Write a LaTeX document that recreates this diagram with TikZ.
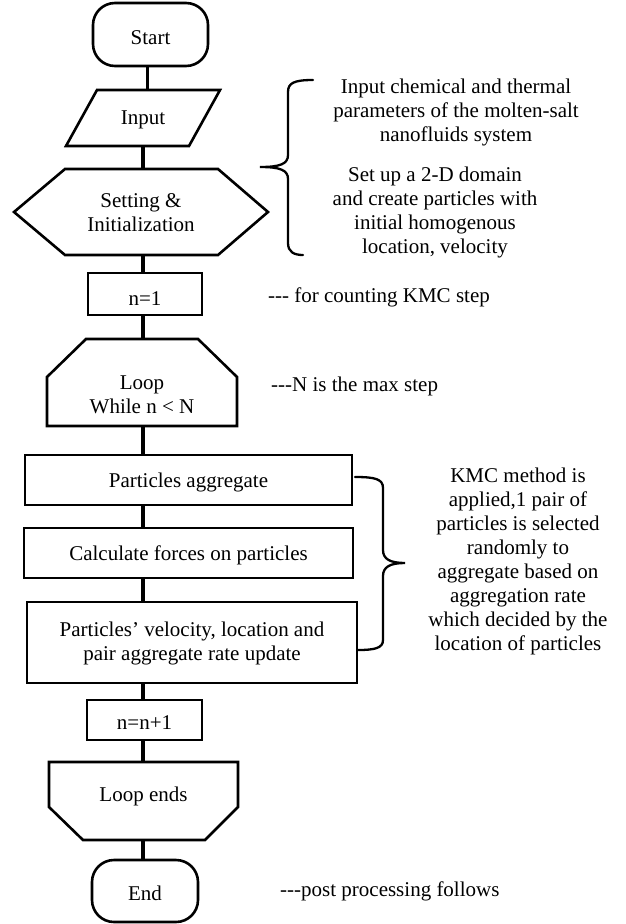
\documentclass[tikz,border=0pt]{standalone}
\usepackage{fontspec}
\setmainfont{Liberation Serif}
\begin{document}
\begin{tikzpicture}[x=1pt,y=-1pt]
\tikzset{
  txt/.style={font=\fontsize{21}{24}\selectfont},
  shp/.style={draw=none, inner sep=0pt, outer sep=0pt},
  lbl/.style={txt, inner sep=0pt, align=center},
  outline/.style={line width=2.6pt, line join=miter},
  conn/.style={line width=3.6pt},
  bracestyle/.style={line width=2.3pt, line cap=round},
  note/.style={txt, inner sep=0pt, align=center},
}
\useasboundingbox (0,0) rectangle (626,924);
\fill[white] (0,0) rectangle (626,924);

% ---------- flowchart shapes ----------
\node[shp, minimum width=115pt, minimum height=63pt] (start) at (150.5,34.5) {};
\draw[outline, rounded corners=22pt] (start.north west) rectangle (start.south east);
\node[lbl] (start-t) at ([yshift=-3pt]start.center) {Start};

\node[shp, minimum width=154pt, minimum height=56pt] (input) at (143,118) {};
\draw[outline] ([xshift=31pt]input.north west) -- (input.north east)
  -- ([xshift=-31pt]input.south east) -- (input.south west) -- cycle;
\node[lbl] (input-t) at ([yshift=-2pt]input.center) {Input};

\node[shp, minimum width=254pt, minimum height=86pt] (set) at (141,212) {};
\draw[outline] (set.west) -- ([xshift=51pt]set.north west) -- ([xshift=-50pt]set.north east)
  -- (set.east) -- ([xshift=-50pt]set.south east) -- ([xshift=51pt]set.south west) -- cycle;
\node[lbl] (set-t) at ([yshift=-1pt]set.center) {Setting \&\\Initialization};

\node[shp, minimum width=114pt, minimum height=42pt] (n1) at (145,294) {};
\draw[outline] (n1.north west) rectangle (n1.south east);
\node[lbl] (n1-t) at ([yshift=-5pt]n1.center) {n=1};

\node[shp, minimum width=190pt, minimum height=87pt] (loop) at (142,382.5) {};
\draw[outline] (loop.south west) -- ([yshift=-38pt]loop.north west) -- ([xshift=39pt]loop.north west)
  -- ([xshift=-39pt]loop.north east) -- ([yshift=-38pt]loop.north east) -- (loop.south east) -- cycle;
\node[lbl] (loop-t) at ([yshift=-12pt]loop.center) {Loop\\While n < N};

\node[shp, minimum width=327pt, minimum height=50pt] (agg) at (188.5,480) {};
\draw[outline] (agg.north west) rectangle (agg.south east);
\node[lbl] (agg-t) at ([yshift=-2pt]agg.center) {Particles aggregate};

\node[shp, minimum width=329pt, minimum height=50pt] (calc) at (188.5,553) {};
\draw[outline] (calc.north west) rectangle (calc.south east);
\node[lbl] (calc-t) at ([yshift=-2pt]calc.center) {Calculate forces on particles};

\node[shp, minimum width=330pt, minimum height=81pt] (upd) at (192,642.5) {};
\draw[outline] (upd.north west) rectangle (upd.south east);
\node[lbl] (upd-t) at ([yshift=-1pt]upd.center) {Particles’ velocity, location and\\pair aggregate rate update};

\node[shp, minimum width=115pt, minimum height=40pt] (inc) at (144.5,720) {};
\draw[outline] (inc.north west) rectangle (inc.south east);
\node[lbl] (inc-t) at ([yshift=-3pt]inc.center) {n=n+1};

\node[shp, minimum width=189pt, minimum height=78pt] (lend) at (143.5,801) {};
\draw[outline] (lend.north west) -- (lend.north east) -- ([yshift=33pt]lend.south east)
  -- ([xshift=-33pt]lend.south east) -- ([xshift=34pt]lend.south west) -- ([yshift=33pt]lend.south west) -- cycle;
\node[lbl] (lend-t) at ([yshift=5pt]lend.center) {Loop ends};

\node[shp, minimum width=106pt, minimum height=62pt] (stop) at (145,891) {};
\draw[outline, rounded corners=22pt] (stop.north west) rectangle (stop.south east);
\node[lbl] (stop-t) at ([yshift=-2pt]stop.center) {End};

% ---------- connectors ----------
\coordinate (cx) at (143,0);
\draw[conn] ([xshift=-3pt]start.south) -- ([xshift=-3pt]start.south |- input.north);
\draw[conn] (input.south -| cx) -- (set.north -| cx);
\draw[conn] (set.south -| cx) -- (n1.north -| cx);
\draw[conn] (n1.south -| cx) -- (loop.north -| cx);
\draw[conn] (loop.south -| cx) -- (agg.north -| cx);
\draw[conn] (agg.south -| cx) -- (calc.north -| cx);
\draw[conn] (calc.south -| cx) -- (upd.north -| cx);
\draw[conn] (upd.south -| cx) -- (inc.north -| cx);
\draw[conn] (inc.south -| cx) -- (lend.north -| cx);
\draw[conn] (lend.south -| cx) -- (stop.north -| cx);

% ---------- braces ----------
\draw[bracestyle] (313,80) .. controls (294,80) and (288,83) .. (288,92) -- (288,155)
  .. controls (288,164) and (280,167) .. (260,167)
  .. controls (280,167) and (288,170) .. (288,179) -- (288,243)
  .. controls (288,252) and (294,255) .. (303,255);
\draw[bracestyle] (355,477) .. controls (375,477) and (383,479) .. (383,488) -- (383,550)
  .. controls (383,559) and (390,563) .. (405,563)
  .. controls (390,563) and (383,567) .. (383,576) -- (383,640)
  .. controls (383,648) and (375,650) .. (358,650);

% ---------- notes ----------
\node[note] (n_in) at (456,112) {Input chemical and thermal\\parameters of the molten-salt\\nanofluids system};
\node[note] (n_set) at (435,212.5) {Set up a 2-D domain\\and create particles with\\initial homogenous\\location, velocity};
\node[note, anchor=west] (n_cnt) at (268,297) {-{}-{}- for counting KMC step};
\node[note, anchor=west] (n_max) at (271,386) {-{}-{}-N is the max step};
\node[note] (n_kmc) at (518,561) {KMC method is\\applied,1 pair of\\particles is selected\\randomly to\\aggregate based on\\aggregation rate\\which decided by the\\location of particles};
\node[note, anchor=west] (n_post) at (280,891) {-{}-{}-post processing follows};
\end{tikzpicture}
\end{document}
